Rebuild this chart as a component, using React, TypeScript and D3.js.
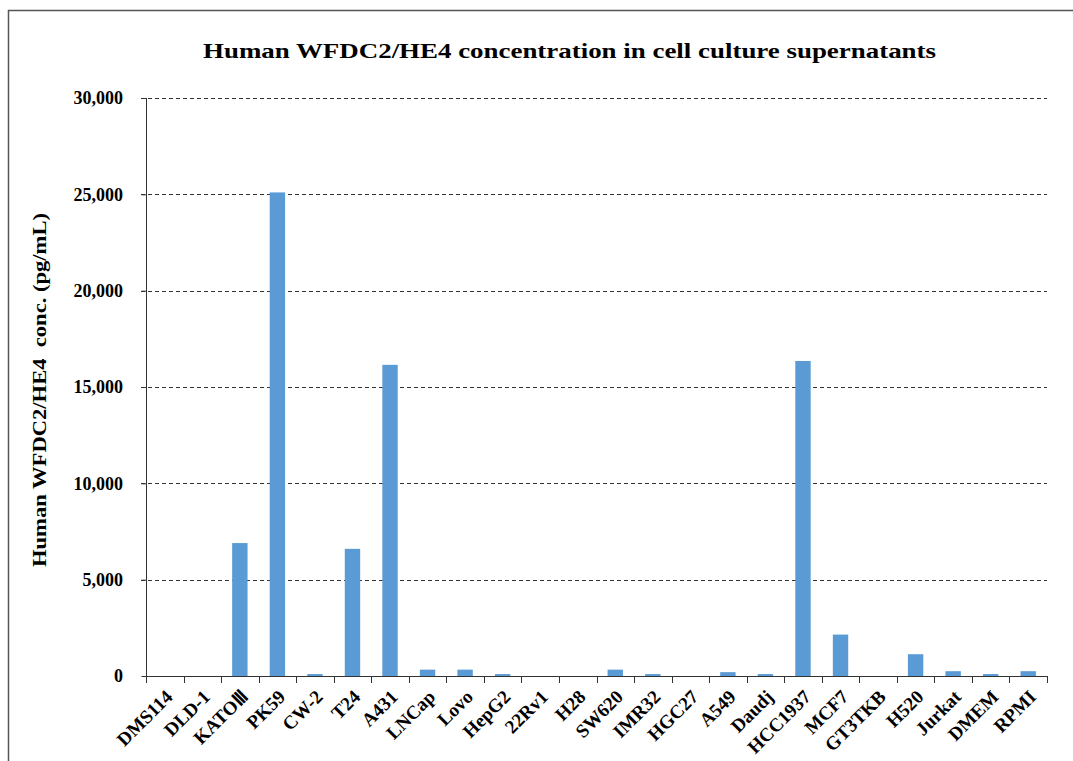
import * as d3 from "d3";
import { useEffect, useRef } from "react";

const categories = [
    "DMS114", "DLD-1", "KATOⅢ", "PK59", "CW-2", "T24", "A431", "LNCap",
    "Lovo", "HepG2", "22Rv1", "H28", "SW620", "IMR32", "HGC27", "A549",
    "Daudj", "HCC1937", "MCF7", "GT3TKB", "H520", "Jurkat", "DMEM", "RPMI",
];

// pg/mL
const concValues = [
    0, 0, 6900, 25100, 100, 6600, 16150, 330,
    330, 100, 0, 0, 330, 100, 0, 200,
    100, 16350, 2150, 0, 1130, 250, 100, 250,
];

const yTicks = [0, 5000, 10000, 15000, 20000, 25000, 30000];

const titleText = "Human WFDC2/HE4 concentration in cell culture supernatants";
const yTitleText = "Human WFDC2/HE4\u00a0\u00a0conc. (pg/mL)";

export default function App() {
    const ref = useRef<SVGSVGElement | null>(null);

    useEffect(() => {
        if (!ref.current) return;
        const svg = d3.select(ref.current);
        svg.selectAll("*").remove();

        const width = 1073;
        const height = 761;
        const font = "'Liberation Serif', 'Times New Roman', serif";

        svg.attr("width", width).attr("height", height);

        // outer frame, cut by the right and bottom edges
        svg.append("rect")
            .attr("x", 8.5)
            .attr("y", 10.5)
            .attr("width", width)
            .attr("height", height)
            .attr("fill", "white")
            .attr("stroke", "#555")
            .attr("stroke-width", 1.5);

        const x = d3
            .scaleBand<string>()
            .domain(categories)
            .range([146, 1047])
            .paddingInner(0.59)
            .paddingOuter(0.295);

        const y = d3.scaleLinear().domain([0, 30000]).range([676, 98]);

        // gridlines
        svg.append("g")
            .selectAll("line")
            .data(yTicks.filter((d) => d > 0))
            .join("line")
            .attr("x1", 141)
            .attr("x2", 1047)
            .attr("y1", (d) => Math.round(y(d)) + 0.5)
            .attr("y2", (d) => Math.round(y(d)) + 0.5)
            .attr("stroke", "#333")
            .attr("stroke-width", 1)
            .attr("stroke-dasharray", "4,3");

        // bars
        svg.append("g")
            .selectAll("rect")
            .data(concValues)
            .join("rect")
            .attr("x", (_, i) => x(categories[i])!)
            .attr("y", (d) => y(d))
            .attr("width", x.bandwidth())
            .attr("height", (d) => y(0) - y(d))
            .attr("fill", "#5B9BD5");

        // y axis
        const yAxis = svg.append("g")
            .attr("transform", "translate(146.5,0)")
            .call(d3.axisLeft(y).tickValues(yTicks).tickSize(5).tickFormat(d3.format(",")));
        yAxis.select(".domain").attr("stroke", "#333").attr("d", `M0,${y(30000)}V${y(0)}`);
        yAxis.selectAll(".tick line").attr("stroke", "#333");
        yAxis.selectAll(".tick text")
            .attr("x", -23.5)
            .attr("font-family", font)
            .attr("font-size", 18)
            .attr("font-weight", "bold")
            .attr("fill", "#000");

        // x axis: ticks at band edges
        const step = x.step();
        const edges = d3.range(categories.length + 1).map((i) => 146 + i * step);
        const xAxis = svg.append("g");
        xAxis.append("line")
            .attr("x1", 146)
            .attr("x2", 1047)
            .attr("y1", 676.5)
            .attr("y2", 676.5)
            .attr("stroke", "#333");
        xAxis.selectAll(".tk")
            .data(edges)
            .join("line")
            .attr("class", "tk")
            .attr("x1", (d) => Math.round(d) + 0.5)
            .attr("x2", (d) => Math.round(d) + 0.5)
            .attr("y1", 676)
            .attr("y2", 683)
            .attr("stroke", "#333");
        xAxis.selectAll("text")
            .data(categories)
            .join("text")
            .attr("transform", (d) => `translate(${x(d)! + x.bandwidth() / 2 + 9},${698}) rotate(-45)`)
            .attr("text-anchor", "end")
            .attr("font-family", font)
            .attr("font-size", 19)
            .attr("font-weight", "bold")
            .attr("fill", "#000")
            .text((d) => d);

        // titles
        svg.append("text")
            .attr("x", 569.5)
            .attr("y", 58)
            .attr("text-anchor", "middle")
            .attr("font-family", font)
            .attr("font-size", 21)
            .attr("font-weight", "bold")
            .attr("textLength", 733)
            .attr("lengthAdjust", "spacingAndGlyphs")
            .text(titleText);

        svg.append("text")
            .attr("transform", "translate(46,390) rotate(-90)")
            .attr("text-anchor", "middle")
            .attr("font-family", font)
            .attr("font-size", 19)
            .attr("font-weight", "bold")
            .attr("textLength", 354)
            .attr("lengthAdjust", "spacingAndGlyphs")
            .text(yTitleText);
    }, []);

    return (
        <svg
            ref={ref}
            style={{ position: "absolute", left: 0, top: 0, display: "block" }}
        ></svg>
    );
}
